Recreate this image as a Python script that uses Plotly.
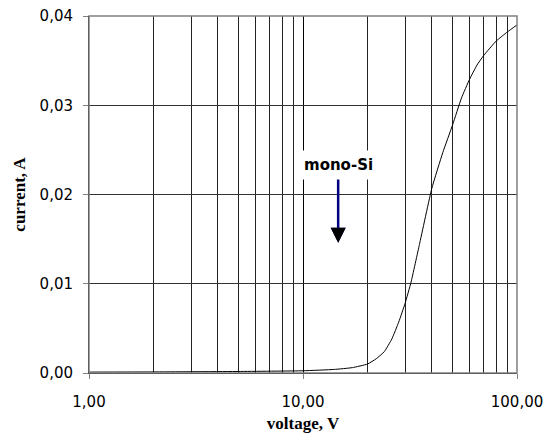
import math
import plotly.graph_objects as go

voltage = [1, 2, 5, 10, 14, 17, 20, 22, 24, 26, 28, 30, 32, 35, 40, 45, 50, 55, 60, 65, 70, 80, 90, 100]
current = [0.0001, 0.00012, 0.00017, 0.00025, 0.0004, 0.0006, 0.001, 0.0016, 0.0024, 0.0038,
           0.0057, 0.0078, 0.0102, 0.0144, 0.0207, 0.0247, 0.0278, 0.0308, 0.0329, 0.0345,
           0.0356, 0.0372, 0.0382, 0.0390]

x_major = [1, 10, 100]
x_minor = [2, 3, 4, 5, 6, 7, 8, 9, 20, 30, 40, 50, 60, 70, 80, 90]
y_ticks = [0, 0.01, 0.02, 0.03, 0.04]

label_text = "mono-Si"
label_v = 14.6
label_y_text = 0.0233
label_y_arrow = 0.0146

fig = go.Figure()
fig.add_trace(go.Scatter(x=voltage, y=current, mode="lines",
                         line=dict(color="black", width=1, shape="spline", smoothing=0.4),
                         hoverinfo="skip", showlegend=False))

fig.update_layout(
    width=556, height=436,
    margin=dict(l=89, r=39, t=16, b=63),
    paper_bgcolor="white", plot_bgcolor="white",
    separators=",.",
    font=dict(family="DejaVu Sans", size=15, color="black"),
    showlegend=False,
)
fig.update_xaxes(
    type="log", range=[0, 2], automargin=False,
    tickvals=x_major, tickformat=".2f",
    showgrid=True, gridcolor="black", gridwidth=1,
    minor=dict(tickvals=x_minor, showgrid=True, gridcolor="#222222", gridwidth=1, ticks=""),
    showline=True, linecolor="black", linewidth=1,
    ticks="outside", ticklen=5, tickcolor="#808080",
    ticklabelstandoff=10,
    zeroline=False,
    title=dict(text="<b>voltage, V</b>", font=dict(family="Liberation Serif", size=17), standoff=7),
)
fig.update_yaxes(
    range=[0, 0.04], automargin=False,
    tickvals=y_ticks, tickformat=".2f",
    showgrid=True, gridcolor="#333333", gridwidth=1,
    showline=True, linecolor="black", linewidth=1,
    ticks="outside", ticklen=5, tickcolor="#808080",
    ticklabelstandoff=7,
    zeroline=False,
    title=dict(text="<b>current, A</b>", font=dict(family="Liberation Serif", size=17), standoff=9),
)
fig.add_shape(type="rect", xref="paper", yref="paper", x0=0, x1=1, y0=0, y1=1,
              line=dict(color="#808080", width=1.5), layer="above")

fig.add_annotation(x=math.log10(label_v), y=label_y_arrow, xref="x", yref="y", text="",
                   showarrow=True, ax=0, ay=-75,
                   arrowcolor="#000080", arrowwidth=2.5, arrowhead=2, arrowsize=1.2)
fig.add_annotation(x=math.log10(label_v), y=label_y_arrow, xref="x", yref="y", text="",
                   showarrow=True, ax=0, ay=-9,
                   arrowcolor="black", arrowwidth=2.5, arrowhead=2, arrowsize=1.2)
fig.add_annotation(x=math.log10(label_v), y=label_y_text, xref="x", yref="y",
                   text="<b>" + label_text + "</b>",
                   showarrow=False, bgcolor="white", borderpad=5,
                   font=dict(family="DejaVu Sans", size=15, color="black"))

fig.write_html("out.html", config={"displayModeBar": False},
               post_script="document.body.style.margin='0';")
